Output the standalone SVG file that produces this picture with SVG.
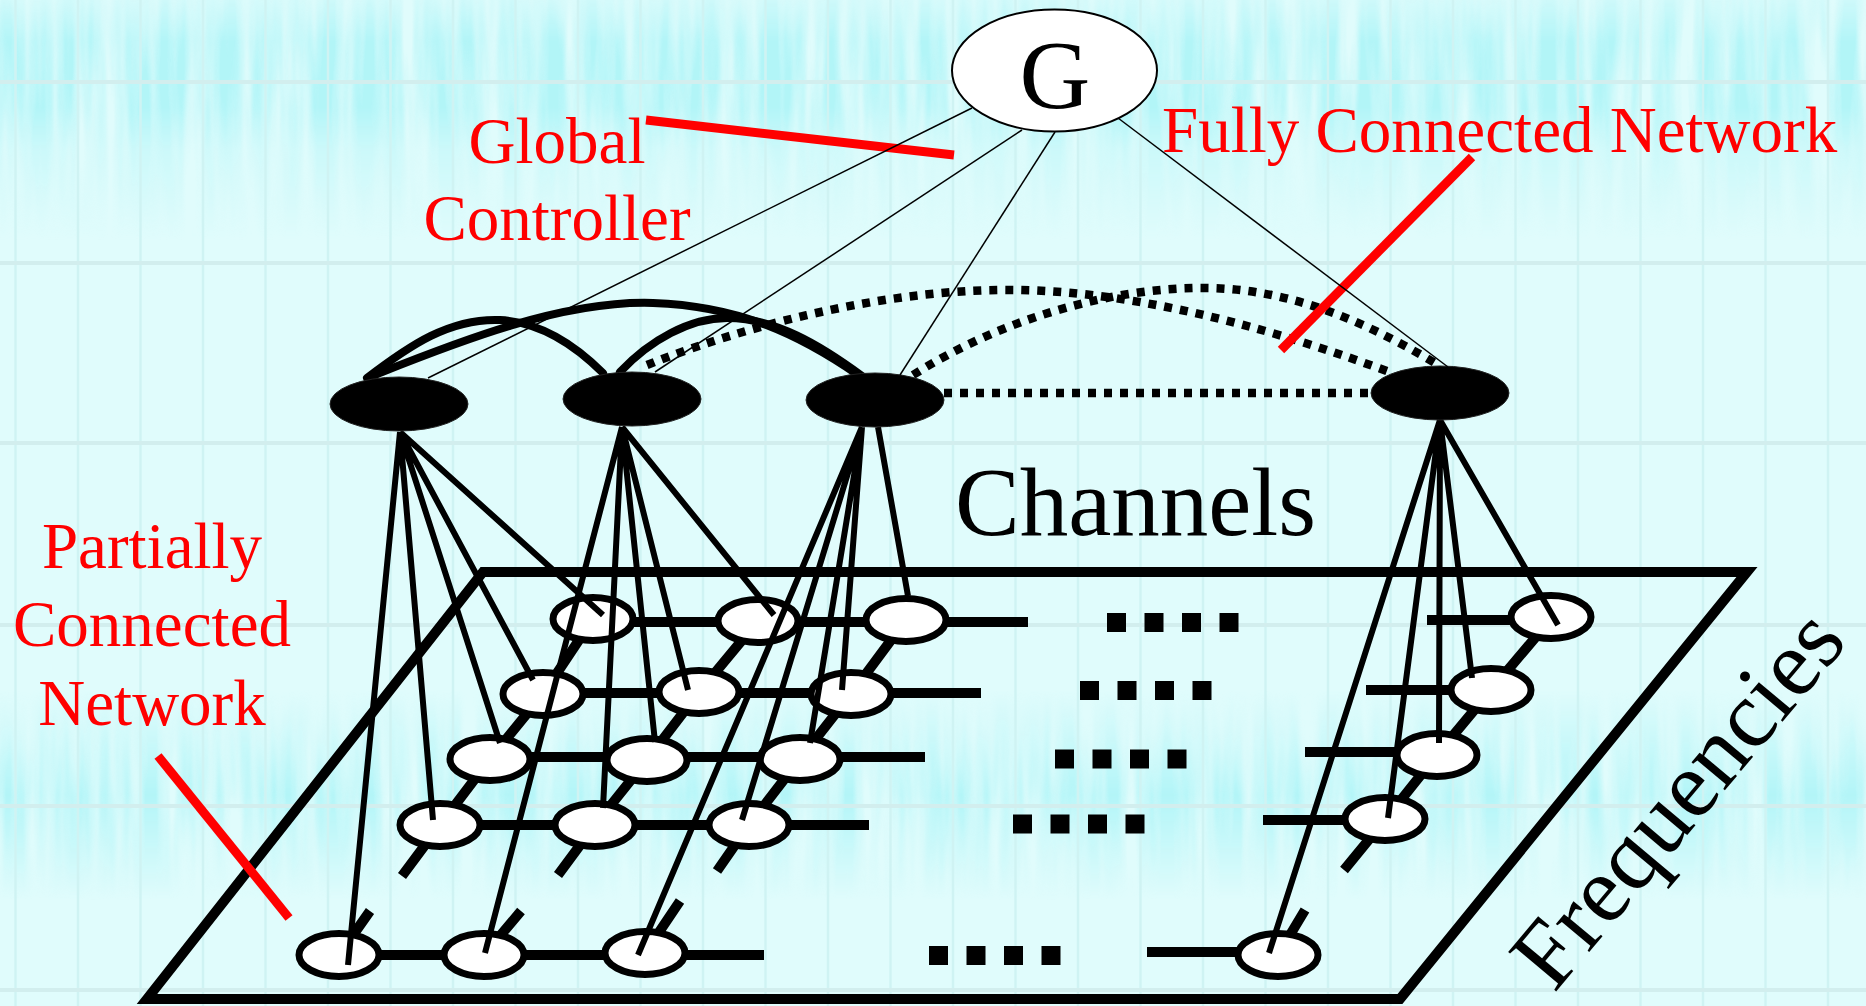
<svg xmlns="http://www.w3.org/2000/svg" width="1866" height="1006" viewBox="0 0 1866 1006">
  <defs>
    <style>
      .thin { stroke: #000; stroke-width: 1.5; fill: none; }
      .arc { stroke: #000; stroke-width: 8; fill: none; stroke-linecap: round; }
      .dot { stroke: #000; stroke-width: 8.5; fill: none; stroke-dasharray: 8 8; }
      .chan { fill: #000; stroke: #222; stroke-width: 1; }
      .cell { fill: #fff; stroke: #000; stroke-width: 7; }
      .link { stroke: #000; stroke-width: 10; fill: none; }
      .feed { stroke: #000; stroke-width: 6; fill: none; }
      .more { stroke: #000; stroke-width: 19; fill: none; stroke-dasharray: 19 18.5; }
      .plane { stroke: #000; stroke-width: 10; fill: none; stroke-linejoin: miter; }
      .pointer { stroke: #ff0000; stroke-width: 9; fill: none; }
      .label { font-family: "Liberation Serif", "Times New Roman", serif; fill: #ff0000; font-size: 65px; }
      .big { font-family: "Liberation Serif", "Times New Roman", serif; fill: #000; }
      .grid { stroke: #cff3f3; stroke-width: 2.5; }
      .hgrid { stroke: #d2eeee; stroke-width: 4; }
    </style>
    <filter id="streaks" x="0" y="0" width="100%" height="100%" color-interpolation-filters="sRGB">
      <feTurbulence type="fractalNoise" baseFrequency="0.05 0.004" numOctaves="3" seed="7" result="n"/>
      <feColorMatrix in="n" type="matrix" values="0 0 0 0 0.70  0 0 0 0 0.96  0 0 0 0 0.97  2.4 0 0 0 -0.62"/>
      <feComposite in2="SourceGraphic" operator="in"/>
    </filter>
    <linearGradient id="topBand" x1="0" y1="0" x2="0" y2="1">
      <stop offset="0" stop-color="#000" stop-opacity="0.4"/>
      <stop offset="0.17" stop-color="#000" stop-opacity="1"/>
      <stop offset="0.45" stop-color="#000" stop-opacity="1"/>
      <stop offset="0.62" stop-color="#000" stop-opacity="0.45"/>
      <stop offset="1" stop-color="#000" stop-opacity="0"/>
    </linearGradient>
    <linearGradient id="midBand" x1="0" y1="0" x2="0" y2="1">
      <stop offset="0" stop-color="#000" stop-opacity="0"/>
      <stop offset="0.3" stop-color="#000" stop-opacity="0.6"/>
      <stop offset="0.5" stop-color="#000" stop-opacity="1"/>
      <stop offset="0.7" stop-color="#000" stop-opacity="0.6"/>
      <stop offset="1" stop-color="#000" stop-opacity="0"/>
    </linearGradient>
  </defs>

  <!-- backdrop: pale cyan with faint grid and waveform bands -->
  <g id="backdrop">
    <rect x="0" y="0" width="1866" height="1006" fill="#e0fcfc"/>
    <rect x="0" y="0" width="1866" height="240" fill="url(#topBand)" filter="url(#streaks)"/>
    <rect x="0" y="690" width="1866" height="210" fill="url(#midBand)" filter="url(#streaks)"/>
    <g class="grid">
      <path d="M15.5,0V1006 M78,0V1006 M140.5,0V1006 M203,0V1006 M265.5,0V1006 M328,0V1006 M390.5,0V1006 M453,0V1006 M515.5,0V1006 M578,0V1006 M640.5,0V1006 M703,0V1006 M765.5,0V1006 M828,0V1006 M890.5,0V1006 M953,0V1006 M1015.5,0V1006 M1078,0V1006 M1140.5,0V1006 M1203,0V1006 M1265.5,0V1006 M1328,0V1006 M1390.5,0V1006 M1453,0V1006 M1515.5,0V1006 M1578,0V1006 M1640.5,0V1006 M1703,0V1006 M1765.5,0V1006 M1828,0V1006"/>
    </g>
    <g class="hgrid">
      <path d="M0,82H1866 M0,263H1866 M0,443H1866 M0,625H1866 M0,806H1866 M0,990H1866"/>
    </g>
  </g>

  <!-- frequency/channel plane -->
  <g id="plane">
    <path class="plane" d="M483,572 L1747,572 L1400,999 L147,999 Z"/>
  </g>

  <!-- grid links: rows (frequencies) and columns (channels) -->
  <g id="grid-links">
    <path class="link" d="M593,622 H1028 M1427,620 H1551"/>
    <path class="link" d="M543,693 H981 M1366,690 H1491"/>
    <path class="link" d="M490,757 H925 M1305,752 H1436"/>
    <path class="link" d="M440,825 H869 M1263,820 H1385"/>
    <path class="link" d="M339,955 H764 M1147,952 H1278"/>
    <path class="link" d="M593,619 L543,694 L490,759 L440,825 L402,876"/>
    <path class="link" d="M758,621 L699,692 L647,760 L595,825 L558,875"/>
    <path class="link" d="M906,620 L851,694 L800,759 L749,825 L717,871"/>
    <path class="link" d="M1551,619 L1491,690 L1436,756 L1385,820 L1344,870"/>
    <path class="link" d="M339,955 L370,911 M484,955 L521,911 M645,953 L680,901 M1278,955 L1305,910"/>
    <path class="more" d="M1107,622.5 H1239"/>
    <path class="more" d="M1080,690.5 H1212"/>
    <path class="more" d="M1055,759 H1187"/>
    <path class="more" d="M1013,824 H1145"/>
    <path class="more" d="M929,955.5 H1061"/>
  </g>

  <!-- grid cells -->
  <g id="cells">
    <ellipse class="cell" cx="593" cy="619" rx="40" ry="21.5"/>
    <ellipse class="cell" cx="758" cy="621" rx="40" ry="21.5"/>
    <ellipse class="cell" cx="906" cy="620" rx="40" ry="21.5"/>
    <ellipse class="cell" cx="1551" cy="617" rx="40" ry="21.5"/>
    <ellipse class="cell" cx="543" cy="694" rx="40" ry="21.5"/>
    <ellipse class="cell" cx="699" cy="692" rx="40" ry="21.5"/>
    <ellipse class="cell" cx="851" cy="694" rx="40" ry="21.5"/>
    <ellipse class="cell" cx="1491" cy="690" rx="40" ry="21.5"/>
    <ellipse class="cell" cx="490" cy="759" rx="40" ry="21.5"/>
    <ellipse class="cell" cx="647" cy="760" rx="40" ry="21.5"/>
    <ellipse class="cell" cx="800" cy="759" rx="40" ry="21.5"/>
    <ellipse class="cell" cx="1437" cy="755" rx="40" ry="21.5"/>
    <ellipse class="cell" cx="440" cy="825" rx="40" ry="21.5"/>
    <ellipse class="cell" cx="595" cy="825" rx="40" ry="21.5"/>
    <ellipse class="cell" cx="749" cy="825" rx="40" ry="21.5"/>
    <ellipse class="cell" cx="1385" cy="819" rx="40" ry="21.5"/>
    <ellipse class="cell" cx="339" cy="955" rx="40" ry="21.5"/>
    <ellipse class="cell" cx="484" cy="955" rx="40" ry="21.5"/>
    <ellipse class="cell" cx="645" cy="953" rx="40" ry="21.5"/>
    <ellipse class="cell" cx="1278" cy="955" rx="40" ry="21.5"/>
  </g>

  <!-- partially connected network: each channel node feeds its column -->
  <g id="feeds">
    <path class="feed" d="M400,432 L603,615 M400,432 L533,680 M400,432 L500,743 M400,432 L433,820 M400,432 L348,965"/>
    <path class="feed" d="M622,427 L774,615 M622,427 L688,690 M622,427 L655,742 M622,427 L603,808 M622,427 L485,953"/>
    <path class="feed" d="M878,427 L908,596 M862,427 L842,690 M862,427 L810,743 M862,427 L742,820 M862,427 L638,955"/>
    <path class="feed" d="M1440,420 L1558,625 M1440,420 L1472,678 M1440,420 L1439,743 M1440,420 L1388,818 M1440,420 L1269,953"/>
  </g>

  <!-- fully connected network between channel nodes -->
  <g id="mesh">
    <path class="arc" d="M367,378 C410,345 450,318 500,320 C540,322 575,345 603,373"/>
    <path class="arc" d="M372,376 C450,345 560,300 653,303 C740,306 800,335 858,375"/>
    <path class="arc" d="M620,372 C650,340 690,318 727,318 C775,318 820,345 862,376"/>
    <path class="dot" d="M647,365 C760,320 900,288 1017,290 C1150,292 1290,335 1392,373"/>
    <path class="dot" d="M913,375 C1000,320 1110,287 1207,288 C1300,289 1380,330 1440,366"/>
    <path class="dot" d="M944,393 L1371,393"/>
  </g>

  <g id="channel-1"><ellipse class="chan" cx="399" cy="404" rx="69" ry="27"/></g>
  <g id="channel-2"><ellipse class="chan" cx="632" cy="399" rx="69" ry="27"/></g>
  <g id="channel-3"><ellipse class="chan" cx="875" cy="400" rx="69" ry="27"/></g>
  <g id="channel-4"><ellipse class="chan" cx="1440" cy="393" rx="69" ry="27"/></g>

  <!-- label pointers -->
  <g id="pointers">
    <path class="pointer" d="M646,120 L954,155"/>
    <path class="pointer" d="M1472,157 L1281,350"/>
    <path class="pointer" d="M158,756 L289,918"/>
  </g>

  <!-- global controller links -->
  <g id="controller-links">
    <path class="thin" d="M972,108 L428,378"/>
    <path class="thin" d="M1022,130 L655,372"/>
    <path class="thin" d="M1055,132 L900,375"/>
    <path class="thin" d="M1118,118 L1448,367"/>
  </g>

  <g id="controller">
    <ellipse cx="1054.5" cy="70.5" rx="102.5" ry="61" fill="#fff" stroke="#000" stroke-width="2"/>
    <text class="big" x="1055" y="108" font-size="98" text-anchor="middle">G</text>
  </g>

  <g id="labels">
    <text class="label" x="557" y="163" text-anchor="middle">Global</text>
    <text class="label" x="557" y="240" text-anchor="middle">Controller</text>
    <text class="label" x="1162" y="152">Fully Connected Network</text>
    <text class="label" x="152" y="568" text-anchor="middle">Partially</text>
    <text class="label" x="152" y="646" text-anchor="middle">Connected</text>
    <text class="label" x="152" y="725" text-anchor="middle">Network</text>
    <text class="big" x="955" y="535" font-size="97">Channels</text>
    <text class="big" font-size="95" transform="translate(1554,994) rotate(-50)">Frequencies</text>
  </g>
</svg>
